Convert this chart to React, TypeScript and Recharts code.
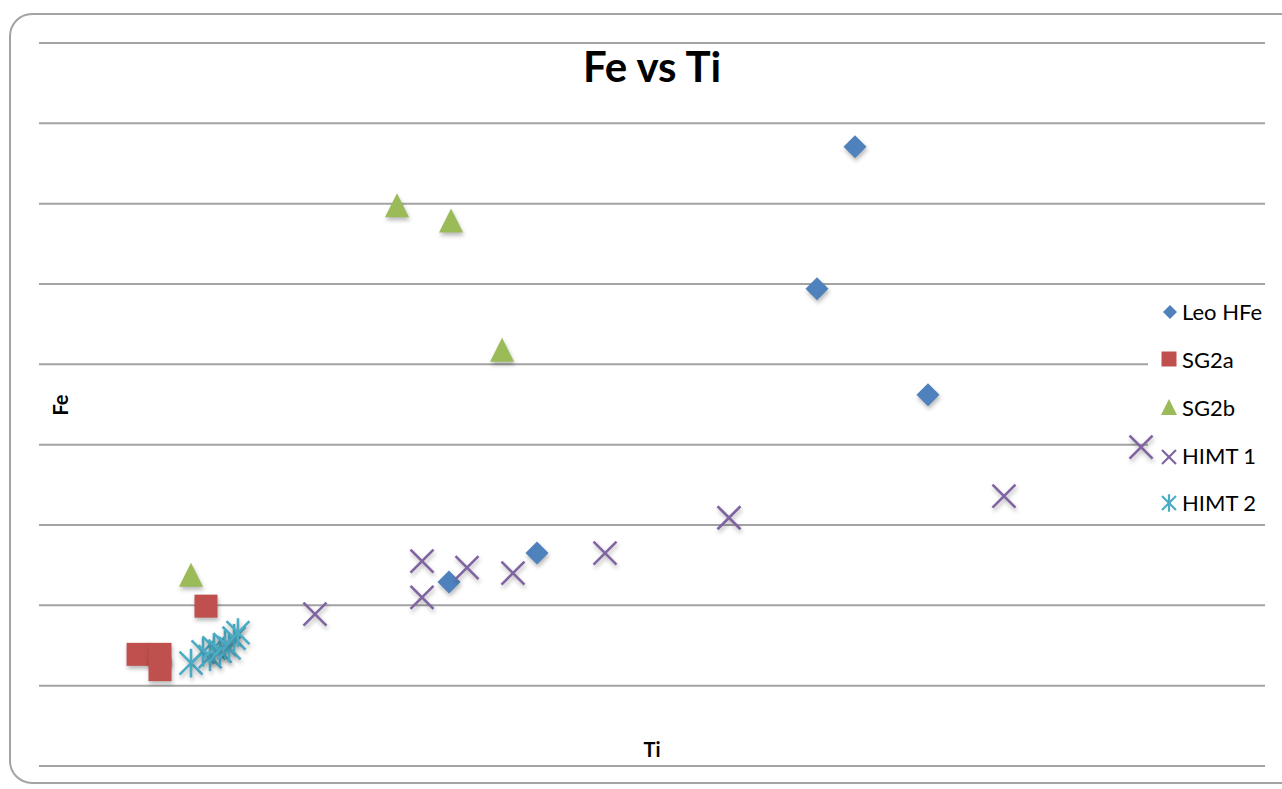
import React from 'react';
import { ScatterChart, Scatter, XAxis, YAxis, CartesianGrid, Customized } from 'recharts';

// ---- data (x: Ti, y: Fe; arbitrary units) ----
const leoHFe = [
  { x: 66.56, y: 7.71 },
  { x: 63.46, y: 5.94 },
  { x: 72.51, y: 4.62 },
  { x: 33.44, y: 2.29 },
  { x: 40.62, y: 2.65 },
];
const sg2a = [
  { x: 13.62, y: 1.99 },
  { x: 8.08, y: 1.39 },
  { x: 9.87, y: 1.39 },
  { x: 9.87, y: 1.2 },
];
const sg2b = [
  { x: 29.2, y: 6.98 },
  { x: 33.61, y: 6.79 },
  { x: 37.77, y: 5.18 },
  { x: 12.4, y: 2.38 },
];
const himt1 = [
  { x: 22.51, y: 1.89 },
  { x: 31.24, y: 2.55 },
  { x: 31.24, y: 2.1 },
  { x: 34.91, y: 2.47 },
  { x: 38.66, y: 2.4 },
  { x: 46.17, y: 2.65 },
  { x: 56.28, y: 3.09 },
  { x: 78.71, y: 3.36 },
  { x: 89.89, y: 3.97 },
];
const himt2 = [
  { x: 12.4, y: 1.28 },
  { x: 13.38, y: 1.42 },
  { x: 13.95, y: 1.36 },
  { x: 14.27, y: 1.47 },
  { x: 14.76, y: 1.43 },
  { x: 15.17, y: 1.51 },
  { x: 15.5, y: 1.47 },
  { x: 15.91, y: 1.59 },
  { x: 16.23, y: 1.66 },
];
const yTicks = [0, 1, 2, 3, 4, 5, 6, 7, 8, 9];
const seriesNames = ['Leo HFe', 'SG2a', 'SG2b', 'HIMT 1', 'HIMT 2'];

const BLUE = '#4f81bd';
const RED = '#c0504d';
const GREEN = '#9bbb59';
const PURPLE = '#8064a2';
const CYAN = '#4bacc6';
const FONT = 'Lato, "Open Sans", sans-serif';
const SHADOW = 'drop-shadow(1px 3px 2px rgba(0,0,0,0.28))';

type P = { cx?: number; cy?: number };

const Diamond = ({ cx = 0, cy = 0, r = 11.5 }: P & { r?: number }) => (
  <polygon
    points={`${cx},${cy - r} ${cx + r},${cy} ${cx},${cy + r} ${cx - r},${cy}`}
    fill={BLUE}
  />
);
const Square = ({ cx = 0, cy = 0, s = 23 }: P & { s?: number }) => (
  <rect x={cx - s / 2} y={cy - s / 2} width={s} height={s} fill={RED} />
);
const Triangle = ({ cx = 0, cy = 0, w = 12, h = 12 }: P & { w?: number; h?: number }) => (
  <polygon points={`${cx},${cy - h} ${cx + w},${cy + h} ${cx - w},${cy + h}`} fill={GREEN} />
);
const Cross = ({ cx = 0, cy = 0, r = 11.5, sw = 2.6 }: P & { r?: number; sw?: number }) => (
  <g stroke={PURPLE} strokeWidth={sw}>
    <line x1={cx - r} y1={cy - r} x2={cx + r} y2={cy + r} />
    <line x1={cx - r} y1={cy + r} x2={cx + r} y2={cy - r} />
  </g>
);
const Star = ({ cx = 0, cy = 0, r = 11.5, sw = 2.6 }: P & { r?: number; sw?: number }) => (
  <g stroke={CYAN} strokeWidth={sw}>
    <line x1={cx - r} y1={cy - r} x2={cx + r} y2={cy + r} />
    <line x1={cx - r} y1={cy + r} x2={cx + r} y2={cy - r} />
    <line x1={cx} y1={cy - r * 1.25} x2={cx} y2={cy + r * 1.25} />
  </g>
);

const shadowed = (Comp: any) => (props: any) => (
  <g style={{ filter: SHADOW }}>
    <Comp cx={props.cx} cy={props.cy} />
  </g>
);

const legendY = [312, 360, 408, 456, 503];
const legendIcons = [
  (y: number) => <Diamond cx={1170} cy={y} r={7} />,
  (y: number) => <Square cx={1169} cy={y - 1} s={15} />,
  (y: number) => <Triangle cx={1169} cy={y - 1} w={8} h={8} />,
  (y: number) => <Cross cx={1169} cy={y + 1} r={7} sw={2.2} />,
  (y: number) => <Star cx={1169} cy={y} r={7} sw={2.2} />,
];

const Overlay = () => (
  <g>
    <rect x={1148} y={285} width={120} height={239} fill="#ffffff" />
    {seriesNames.map((n, i) => (
      <g key={n}>
        {legendIcons[i](legendY[i])}
        <text x={1182} y={legendY[i] + 8} fontFamily={FONT} fontSize={22} fill="#000">
          {n}
        </text>
      </g>
    ))}
    <text x={652} y={82} textAnchor="middle" fontFamily={FONT} fontSize={42} fontWeight="bold" fill="#000">
      Fe vs Ti
    </text>
    <text x={652} y={757} textAnchor="middle" fontFamily={FONT} fontSize={20} fontWeight="bold" fill="#000">
      Ti
    </text>
    <text
      x={68}
      y={405}
      textAnchor="middle"
      transform="rotate(-90 68 405)"
      fontFamily={FONT}
      fontSize={20}
      fontWeight="bold"
      fill="#000"
    >
      Fe
    </text>
  </g>
);

export default function App() {
  return (
    <div style={{ position: 'fixed', left: 0, top: 0, width: 1282, height: 789, background: '#fff', overflow: 'hidden' }}>
      <div
        style={{
          position: 'absolute',
          left: 9,
          top: 13,
          width: 1320,
          height: 771,
          border: '2px solid #a3a3a3',
          borderRadius: 23,
          boxSizing: 'border-box',
        }}
      />
      <div style={{ position: 'absolute', left: 0, top: 0 }}>
        <ScatterChart width={1282} height={789} margin={{ top: 43, left: 39, right: 17, bottom: 23 }}>
          <CartesianGrid vertical={false} stroke="#a3a3a3" strokeWidth={2} />
          <XAxis type="number" dataKey="x" domain={[0, 100]} hide />
          <YAxis type="number" dataKey="y" domain={[0, 9]} ticks={yTicks} hide />
          <Customized component={Overlay} />
          <Scatter name="Leo HFe" data={leoHFe} shape={shadowed(Diamond)} isAnimationActive={false} />
          <Scatter name="SG2a" data={sg2a} shape={shadowed(Square)} isAnimationActive={false} />
          <Scatter name="SG2b" data={sg2b} shape={shadowed(Triangle)} isAnimationActive={false} />
          <Scatter name="HIMT 1" data={himt1} shape={shadowed(Cross)} isAnimationActive={false} />
          <Scatter name="HIMT 2" data={himt2} shape={shadowed(Star)} isAnimationActive={false} />
        </ScatterChart>
      </div>
    </div>
  );
}
